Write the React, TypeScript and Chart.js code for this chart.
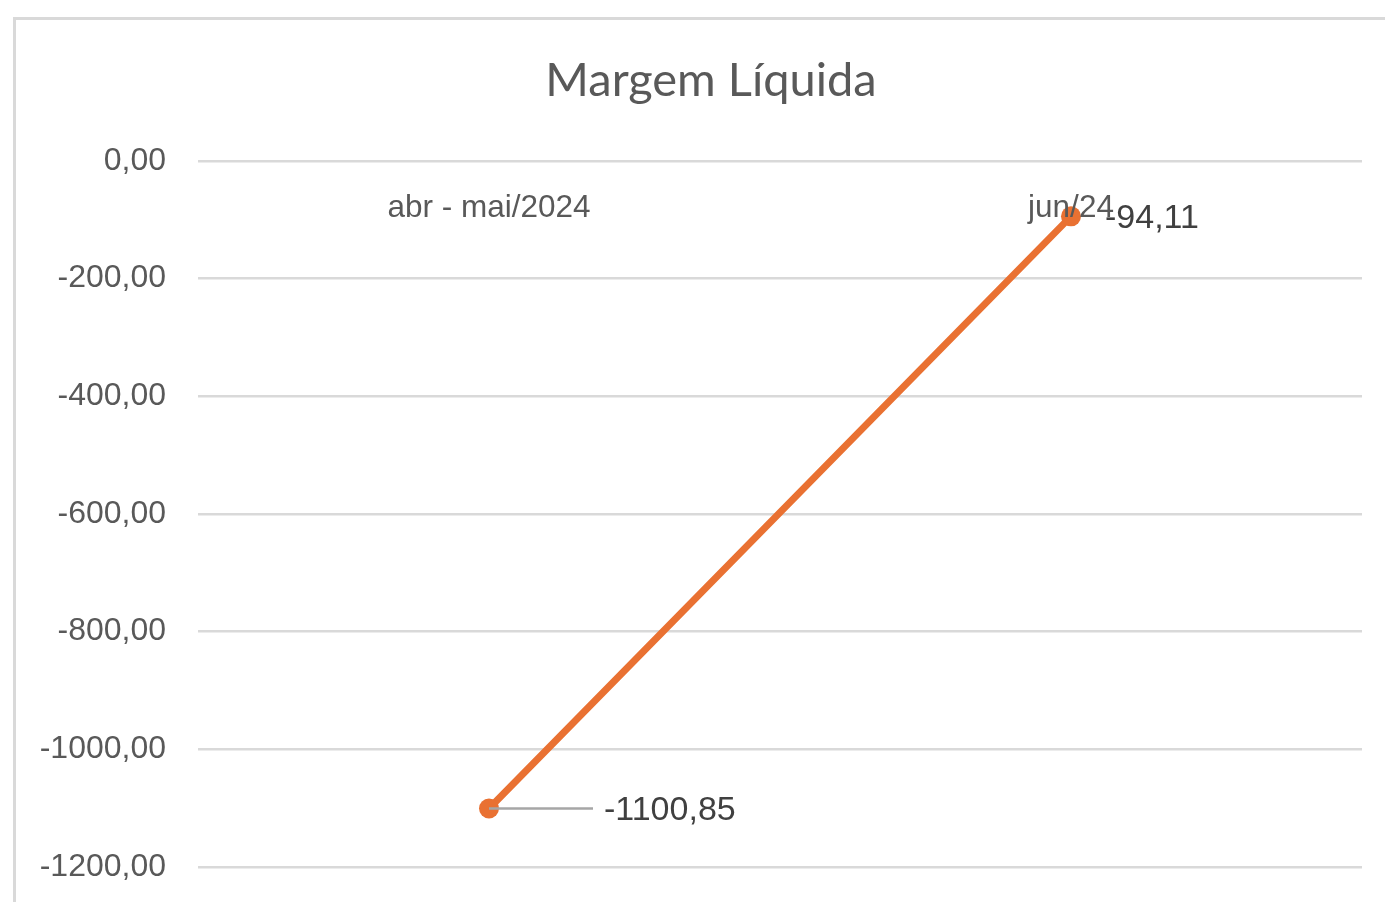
import React, { useEffect, useRef } from "react";
import { Chart, registerables } from "chart.js";

Chart.register(...registerables);

const chartTitle = "Margem Líquida";
const categories = ["abr - mai/2024", "jun/24"];
const margemValues = [-1100.85, -94.11];
const yMin = -1200;
const yMax = 0;
const yStep = 200;

const fmt = (v: number) => v.toFixed(2).replace(".", ",");

const overlayPlugin = {
  id: "overlay",
  afterDatasetsDraw(chart: any) {
    const ctx = chart.ctx as CanvasRenderingContext2D;
    const xs = chart.scales.x;
    const ys = chart.scales.y;
    ctx.save();
    // title
    ctx.font = "47px Lato";
    ctx.fillStyle = "#595959";
    ctx.textAlign = "center";
    ctx.textBaseline = "alphabetic";
    ctx.fillText(chartTitle, 711, 96);

    // category labels (axis crosses at 0 -> labels near top)
    ctx.font = "31.5px 'Liberation Sans'";
    ctx.fillStyle = "#595959";
    ctx.textBaseline = "middle";
    categories.forEach((c, i) => {
      ctx.fillText(c, xs.getPixelForValue(i), ys.getPixelForValue(0) + 47);
    });

    // data labels
    const offsets = [116, 35];
    const meta = chart.getDatasetMeta(0);
    ctx.font = "34px 'Liberation Sans'";
    ctx.textAlign = "left";
    meta.data.forEach((pt: any, i: number) => {
      const off = offsets[i];
      if (off > 60) {
        ctx.strokeStyle = "#a6a6a6";
        ctx.lineWidth = 2.5;
        ctx.beginPath();
        ctx.moveTo(pt.x, pt.y);
        ctx.lineTo(pt.x + off - 12, pt.y);
        ctx.stroke();
      }
      ctx.fillStyle = "#404040";
      ctx.fillText(fmt(margemValues[i]), pt.x + off - 1, pt.y + 2);
    });
    ctx.restore();
  },
};

export default function App() {
  const ref = useRef<HTMLCanvasElement>(null);
  useEffect(() => {
    if (!ref.current) return;
    const chart = new Chart(ref.current, {
      type: "line",
      data: {
        labels: categories,
        datasets: [
          {
            label: chartTitle,
            data: margemValues,
            borderColor: "#E97132",
            backgroundColor: "#E97132",
            borderWidth: 7,
            borderCapStyle: "round",
            pointRadius: 10,
            pointBorderWidth: 0,
            pointBackgroundColor: "#E97132",
            tension: 0,
          },
        ],
      },
      options: {
        responsive: false,
        animation: false,
        layout: { padding: { left: 0, top: 161, right: 23, bottom: 0 } },
        plugins: {
          legend: { display: false },
          title: { display: false },
          tooltip: { enabled: false },
        },
        scales: {
          x: {
            type: "category",
            display: false,
            offset: true,
          },
          y: {
            min: yMin,
            max: yMax,
            ticks: {
              stepSize: yStep,
              padding: 32,
              color: "#595959",
              font: { family: "'Liberation Sans'", size: 32 },
              callback: (v: any) => fmt(Number(v)),
            },
            grid: { color: "#d9d9d9", lineWidth: 2.5, drawTicks: false },
            border: { display: false },
            afterFit: (scale: any) => {
              scale.width = 198;
            },
          },
        },
      },
      plugins: [overlayPlugin],
    });
    return () => chart.destroy();
  }, []);

  return (
    <div style={{ position: "absolute", left: 0, top: 0, width: 1385, height: 902, overflow: "hidden", background: "#fff" }}>
      <div
        style={{
          position: "absolute",
          left: 13,
          top: 17,
          width: 1420,
          height: 940,
          border: "3px solid #d9d9d9",
          boxSizing: "border-box",
        }}
      />
      <canvas ref={ref} width={1385} height={918} style={{ position: "absolute", left: 0, top: 0 }} />
    </div>
  );
}
